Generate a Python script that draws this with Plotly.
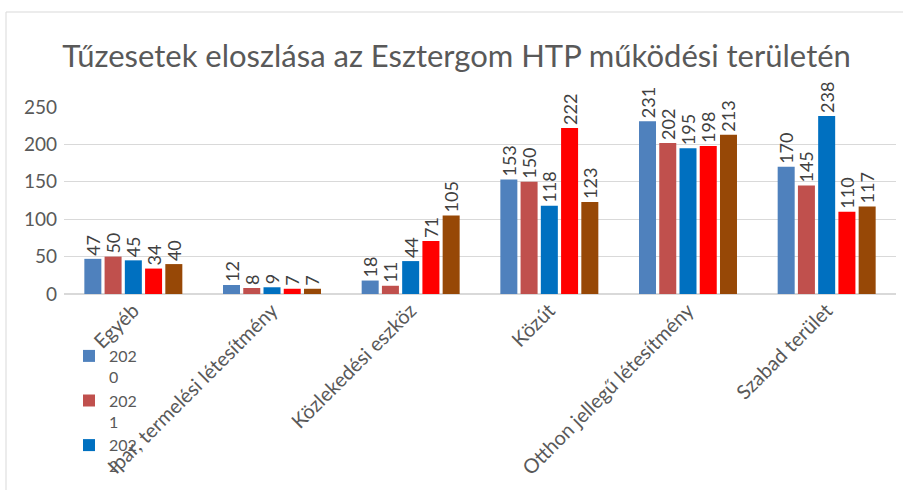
import plotly.graph_objects as go

categories = ["Egyéb", "Ipar, termelési létesítmény", "Közlekedési eszköz", "Közút",
              "Otthon jellegű létesítmény", "Szabad terület"]
years = ["2020", "2021", "2022", "2023", "2024"]
v2020 = [47, 12, 18, 153, 231, 170]
v2021 = [50, 8, 11, 150, 202, 145]
v2022 = [45, 9, 44, 118, 195, 238]
v2023 = [34, 7, 71, 222, 198, 110]
v2024 = [40, 7, 105, 123, 213, 117]
series = [v2020, v2021, v2022, v2023, v2024]
colors = ["#4F81BD", "#C0504D", "#0070C0", "#FF0000", "#974806"]
# legend entries visible in the reference (the rest are cut off by the chart frame)
legend_shown = ["2020", "2021", "2022"]

FONT = "Lato, Carlito, sans-serif"
GRAY = "#595959"

fig = go.Figure()
for yr, vals, col in zip(years, series, colors):
    fig.add_bar(
        x=categories, y=vals, name=yr[:3] + "<br>" + yr[3:],
        showlegend=yr in legend_shown,
        marker=dict(color=col, line=dict(width=0)),
        text=[str(v) for v in vals], textposition="outside", textangle=-90,
        textfont=dict(family=FONT, size=18, color="#404040"),
        cliponaxis=False, constraintext="none",
    )

W, H = 903, 490
L, R, T, B = 64, 7, 107, 196
pw = W - L - R
ph = H - T - B

fig.update_layout(
    template="none",
    width=W, height=H,
    margin=dict(l=L, r=R, t=T, b=B, autoexpand=False),
    paper_bgcolor="white", plot_bgcolor="white",
    bargap=0.27, bargroupgap=0.16,
    font=dict(family=FONT, color=GRAY, size=18),
    title=dict(text="Tűzesetek eloszlása az Esztergom HTP működési területén",
               x=456.5 / W, xanchor="center", xref="container",
               y=1 - 56 / H, yanchor="middle", yref="container",
               font=dict(family=FONT, size=31, color=GRAY)),
    xaxis=dict(tickangle=-45, tickfont=dict(family=FONT, size=20, color=GRAY),
               showgrid=False, showline=False, zeroline=False, ticks="",
               automargin=False),
    yaxis=dict(range=[0, 250], dtick=50, tickfont=dict(family=FONT, size=19, color=GRAY),
               showgrid=True, gridcolor="#d9d9d9", gridwidth=1,
               zeroline=True, zerolinecolor="#d9d9d9", zerolinewidth=1.5,
               showline=False, ticks="", ticklabelstandoff=6, automargin=False),
    legend=dict(x=(69 - L) / pw, xanchor="left", y=(294 - 339) / ph,
                yanchor="top", orientation="v", bgcolor="rgba(0,0,0,0)",
                font=dict(family=FONT, size=16, color=GRAY), tracegroupgap=0,
                itemwidth=30, valign="top", maxheight=1000),
    shapes=[dict(type="rect", xref="paper", yref="paper",
                 x0=(6 - L) / pw, x1=1.2, y0=-1.5, y1=1 + (T - 12) / ph,
                 line=dict(color="#d9d9d9", width=1), fillcolor="rgba(0,0,0,0)",
                 layer="below")],
)

fig.write_html("out.html", config={"displayModeBar": False},
               post_script="document.body.style.margin='0';")
